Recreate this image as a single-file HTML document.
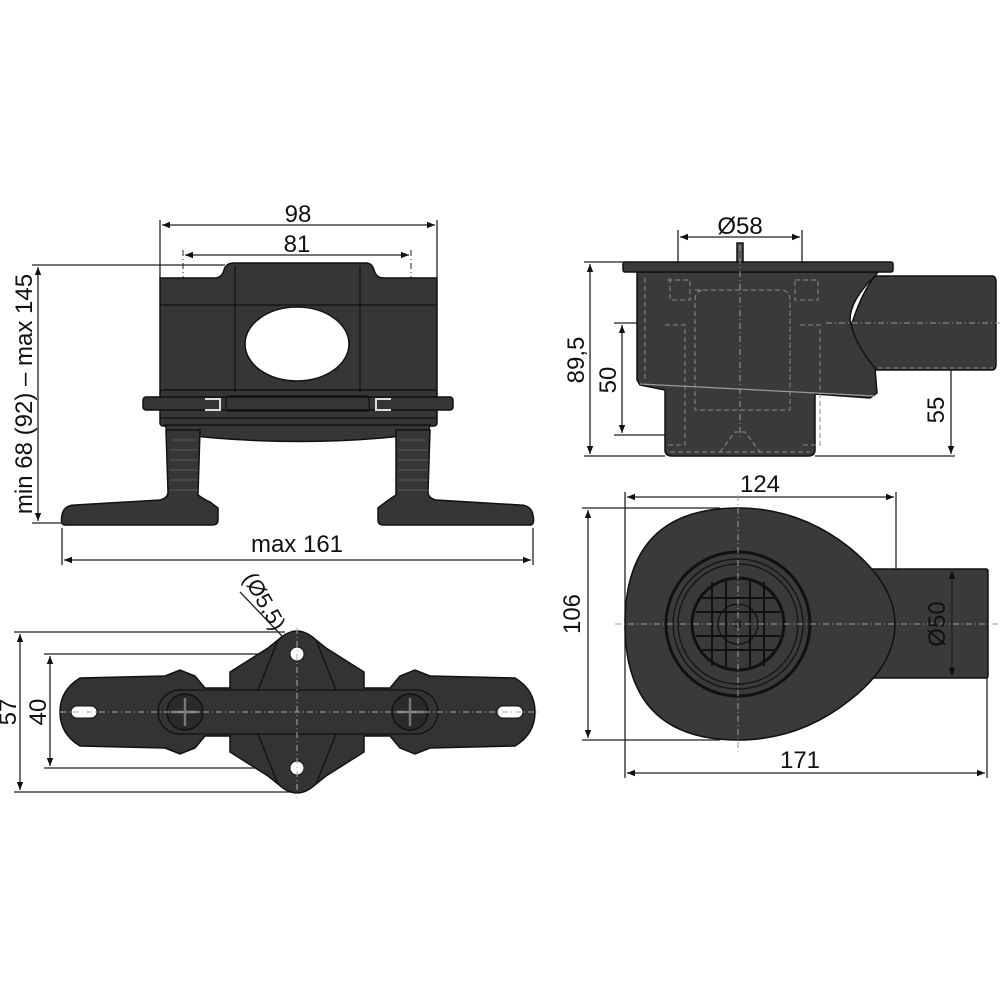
<!DOCTYPE html>
<html><head><meta charset="utf-8"><style>
html,body{margin:0;padding:0;background:#fff;}
svg{display:block;}
text{font-family:"Liberation Sans","DejaVu Sans",sans-serif;fill:#111;}
</style></head><body>
<svg width="1000" height="1000" viewBox="0 0 1000 1000" xmlns="http://www.w3.org/2000/svg">
<defs>
<marker id="a" viewBox="0 0 10 10" refX="10" refY="5" markerWidth="10" markerHeight="8" orient="auto-start-reverse" markerUnits="userSpaceOnUse"><path d="M0,1 L10,5 L0,9 z" fill="#111"/></marker>
</defs>
<g stroke="#222" stroke-width="1.3" fill="none">
<!-- ===== Top-left view ===== -->
<line x1="160" y1="220" x2="160" y2="278"/><line x1="437" y1="220" x2="437" y2="278"/>
<line x1="162" y1="225" x2="435" y2="225" marker-start="url(#a)" marker-end="url(#a)"/>
<line x1="185" y1="255" x2="409" y2="255" marker-start="url(#a)" marker-end="url(#a)"/>
<line x1="183" y1="250" x2="183" y2="520" stroke-dasharray="6,3,1,3" stroke-width="1"/>
<line x1="411" y1="250" x2="411" y2="520" stroke-dasharray="6,3,1,3" stroke-width="1"/>
<line x1="32" y1="265" x2="225" y2="265"/><line x1="32" y1="523" x2="62" y2="523"/>
<line x1="38" y1="267" x2="38" y2="521" marker-start="url(#a)" marker-end="url(#a)"/>
<line x1="62" y1="528" x2="62" y2="565"/><line x1="533" y1="528" x2="533" y2="565"/>
<line x1="64" y1="560" x2="531" y2="560" marker-start="url(#a)" marker-end="url(#a)"/>
</g>
<g fill="#363636" stroke="#111" stroke-width="1.5">
<path d="M160,278 L214,278 Q222,278 224,270 Q226,263 234,263 L366,263 Q372,263 374,270 Q376,278 384,278 L437,278 L437,392 L160,392 Z"/>
<rect x="160" y="390" width="277" height="36" rx="3"/>
<rect x="143" y="397" width="310" height="13" rx="3"/>
<path d="M165,425 L430,425 L428,433 Q300,450 168,433 Z"/>
<path d="M166,430 L200,430 L198,495 Q205,500 210,502 L218,508 L218,520 Q218,525 212,525 L65,525 Q60,525 62,515 Q64,505 75,505 L160,500 Q168,498 168,492 Z"/>
<path d="M396,430 L430,430 L428,492 Q428,498 436,500 L520,505 Q531,505 533,515 Q535,525 530,525 L383,525 Q378,525 378,520 L378,508 Q388,500 396,495 Z"/>
</g>
<g stroke="#111" stroke-width="1.2" fill="none">
<line x1="160" y1="305" x2="437" y2="305"/>
<line x1="235" y1="266" x2="235" y2="392"/><line x1="360" y1="266" x2="360" y2="392"/>
<line x1="160" y1="397" x2="437" y2="397"/><line x1="160" y1="418" x2="437" y2="418"/>
<rect x="226" y="396" width="143" height="15" rx="2"/>
<path d="M205,399 L220,399 L220,410 L205,410" stroke="#ddd" stroke-width="2"/>
<path d="M391,399 L376,399 L376,410 L391,410" stroke="#ddd" stroke-width="2"/>
<path d="M172,440 L196,440 M170,450 L198,450 M170,460 L198,460 M170,470 L198,470 M170,480 L198,480 M170,490 L198,490 M400,440 L426,440 M398,450 L428,450 M398,460 L428,460 M398,470 L428,470 M398,480 L428,480 M398,490 L428,490" stroke="#555"/>
</g>
<ellipse cx="297" cy="344" rx="52" ry="37" fill="#fff" stroke="#111" stroke-width="1.5"/>
<text x="298" y="222" font-size="24" text-anchor="middle">98</text>
<text x="297" y="252" font-size="24" text-anchor="middle">81</text>
<text x="297" y="552" font-size="24" text-anchor="middle">max 161</text>
<text transform="translate(32,394) rotate(-90)" font-size="24" text-anchor="middle">min 68 (92) – max 145</text>

<!-- ===== Top-right side view ===== -->
<g stroke="#222" stroke-width="1.3" fill="none">
<line x1="678" y1="230" x2="678" y2="262"/><line x1="802" y1="230" x2="802" y2="262"/>
<line x1="680" y1="237" x2="800" y2="237" marker-start="url(#a)" marker-end="url(#a)"/>
<line x1="584" y1="262" x2="625" y2="262"/><line x1="584" y1="456" x2="665" y2="456"/>
<line x1="590" y1="264" x2="590" y2="454" marker-start="url(#a)" marker-end="url(#a)"/>
<line x1="614" y1="323" x2="665" y2="323"/><line x1="614" y1="435" x2="690" y2="435"/>
<line x1="622" y1="325" x2="622" y2="433" marker-start="url(#a)" marker-end="url(#a)"/>
<line x1="815" y1="456" x2="955" y2="456"/>
<line x1="951" y1="340" x2="951" y2="454" marker-start="url(#a)" marker-end="url(#a)"/>
</g>
<g fill="#3a3a3a" stroke="#111" stroke-width="1.5">
<path d="M875,276 L992,276 Q996,276 996,282 L996,364 Q996,370 992,370 L875,370 Q850,345 850,330 Q860,295 875,276 Z"/>
<path d="M637,272 L878,272 L875,276 Q850,300 850,320 Q855,345 875,368 L877,393 L870,398 L815,394 L815,450 Q815,456 808,456 L672,456 Q665,456 665,450 L665,390 L640,385 L637,380 Z"/>
<rect x="623" y="262" width="270" height="10" rx="2"/>
<rect x="737" y="243" width="6" height="19" fill="#555"/>
</g>
<g stroke="#888" stroke-width="1" fill="none" stroke-dasharray="5,3">
<path d="M645,278 L645,380 M670,278 L670,300 L690,300 L690,280 L665,280"/>
<path d="M795,280 L818,280 L818,300 L795,300 Z"/>
<path d="M695,290 L780,290 Q790,290 790,300 L790,410 L695,410 L695,300 Q695,290 705,290"/>
<path d="M665,325 L685,325 L685,445 L665,445 M800,325 L820,325 L820,445 L800,445"/>
<path d="M670,452 L810,452 M720,452 L735,432 L745,432 L760,452"/>
<path d="M878,368 L993,368"/>
</g>
<line x1="740" y1="245" x2="740" y2="440" stroke="#999" stroke-width="1" stroke-dasharray="6,3,1,3"/>
<line x1="826" y1="323" x2="1000" y2="323" stroke="#999" stroke-width="1" stroke-dasharray="6,3,1,3"/>
<path d="M640,384 L875,396" stroke="#999" stroke-width="1.3" fill="none"/>
<text x="740" y="234" font-size="24" text-anchor="middle">Ø58</text>
<text transform="translate(584,360) rotate(-90)" font-size="24" text-anchor="middle">89,5</text>
<text transform="translate(616,380) rotate(-90)" font-size="24" text-anchor="middle">50</text>
<text transform="translate(944,410) rotate(-90)" font-size="24" text-anchor="middle">55</text>

<!-- ===== Plan view ===== -->
<g stroke="#222" stroke-width="1.3" fill="none">
<line x1="625" y1="492" x2="625" y2="778"/>
<line x1="896" y1="492" x2="896" y2="610"/>
<line x1="627" y1="497" x2="894" y2="497" marker-start="url(#a)" marker-end="url(#a)"/>
<line x1="582" y1="508" x2="720" y2="508"/><line x1="582" y1="740" x2="720" y2="740"/>
<line x1="588" y1="510" x2="588" y2="738" marker-start="url(#a)" marker-end="url(#a)"/>
<line x1="987" y1="678" x2="987" y2="778"/>
<line x1="627" y1="773" x2="985" y2="773" marker-start="url(#a)" marker-end="url(#a)"/>
</g>
<g fill="#3a3a3a" stroke="#111" stroke-width="1.5">
<rect x="870" y="569" width="118" height="109" rx="2"/>
<path d="M738,508 Q800,508 850,548 Q895,585 895,624 Q895,665 850,700 Q800,740 738,740 Q625,740 625,624 Q625,508 738,508 Z"/>
</g>
<line x1="952" y1="571" x2="952" y2="676" stroke="#222" stroke-width="1.3" marker-start="url(#a)" marker-end="url(#a)"/>
<g stroke="#111" fill="none">
<circle cx="738" cy="624" r="72" stroke-width="3"/>
<circle cx="738" cy="624" r="65" stroke-width="1.2"/>
<circle cx="738" cy="624" r="60" stroke-width="1.2"/>
<circle cx="738" cy="624" r="46" stroke-width="3"/>
<circle cx="738" cy="624" r="20" stroke-width="1.2"/>
<circle cx="738" cy="624" r="3" stroke-width="1.5"/>
<path d="M702,598 L774,598 M696,612 L780,612 M696,636 L780,636 M702,650 L774,650 M712,582 L712,666 M726,578 L726,670 M750,578 L750,670 M764,582 L764,666" stroke-width="2"/>
</g>
<line x1="738" y1="495" x2="738" y2="755" stroke="#999" stroke-width="1" stroke-dasharray="6,3,1,3"/>
<line x1="615" y1="624" x2="1000" y2="624" stroke="#999" stroke-width="1" stroke-dasharray="6,3,1,3"/>
<text x="760" y="492" font-size="24" text-anchor="middle">124</text>
<text x="800" y="768" font-size="24" text-anchor="middle">171</text>
<text transform="translate(580,614) rotate(-90)" font-size="24" text-anchor="middle">106</text>
<text transform="translate(945,624) rotate(-90)" font-size="24" text-anchor="middle">Ø50</text>

<!-- ===== Bottom-left view ===== -->
<g stroke="#222" stroke-width="1.3" fill="none">
<line x1="14" y1="632" x2="285" y2="632"/><line x1="14" y1="792" x2="290" y2="792"/>
<line x1="20" y1="634" x2="20" y2="790" marker-start="url(#a)" marker-end="url(#a)"/>
<line x1="44" y1="654" x2="290" y2="654"/><line x1="44" y1="768" x2="290" y2="768"/>
<line x1="50" y1="656" x2="50" y2="766" marker-start="url(#a)" marker-end="url(#a)"/>
<line x1="240" y1="592" x2="282" y2="636"/>
<line x1="292" y1="646" x2="298" y2="652" marker-end="url(#a)"/>
<line x1="315" y1="670" x2="302" y2="657" marker-end="url(#a)"/>
</g>
<g fill="#333" stroke="#111" stroke-width="1.5">
<path d="M80,678 L165,676 L180,670 L195,676 L205,688 L230,688 L230,672 L268,648 L278,640 Q297,622 316,640 L326,648 L364,672 L364,688 L390,688 L400,676 L415,670 L430,676 L515,678 Q535,690 535,712 Q535,734 515,746 L430,748 L415,754 L400,748 L390,736 L364,736 L364,752 L326,776 L316,784 Q297,802 278,784 L268,776 L230,752 L230,736 L205,736 L195,748 L180,754 L165,748 L80,746 Q60,734 60,712 Q60,690 80,678 Z"/>
</g>
<g stroke="#111" fill="none" stroke-width="1.3">
<rect x="158" y="690" width="280" height="44" rx="22"/>
<path d="M278,640 L258,690 M316,640 L336,690 M278,784 L258,734 M316,784 L336,734"/>
</g>
<g fill="#2a2a2a" stroke="#111" stroke-width="1.5">
<circle cx="185" cy="712" r="18"/><circle cx="410" cy="712" r="18"/>
</g>
<g stroke="#777" stroke-width="2.5">
<path d="M185,698 L185,726 M171,712 L199,712 M410,698 L410,726 M396,712 L424,712"/>
</g>
<g fill="#fff" stroke="#111" stroke-width="1">
<circle cx="297" cy="654" r="7"/><circle cx="297" cy="768" r="7"/>
<rect x="71" y="706" width="26" height="12" rx="6"/><rect x="497" y="706" width="26" height="12" rx="6"/>
</g>
<line x1="60" y1="712" x2="540" y2="712" stroke="#aaa" stroke-width="1" stroke-dasharray="6,3,1,3"/>
<line x1="297" y1="628" x2="297" y2="798" stroke="#aaa" stroke-width="1" stroke-dasharray="6,3,1,3"/>
<text transform="translate(16,712) rotate(-90)" font-size="24" text-anchor="middle">57</text>
<text transform="translate(46,712) rotate(-90)" font-size="24" text-anchor="middle">40</text>
<text transform="translate(258,605) rotate(60)" font-size="22" text-anchor="middle">(Ø5,5)</text>
</svg>
</body></html>
